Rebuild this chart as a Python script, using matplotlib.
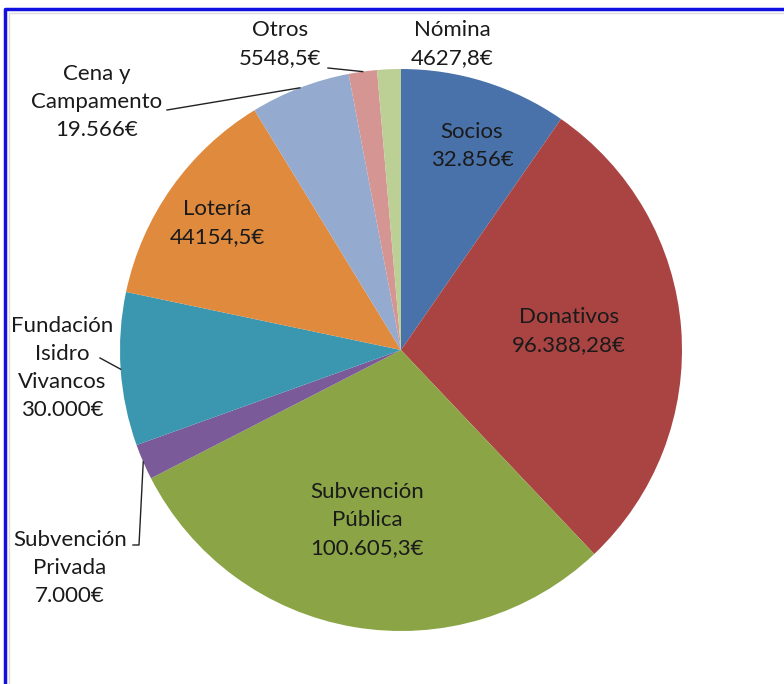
import numpy as np
import matplotlib.pyplot as plt

plt.rcParams['font.family'] = ['Lato', 'DejaVu Sans']

# datos del gráfico
categorias = ['Socios', 'Donativos', 'Subvención\nPública', 'Subvención\nPrivada',
              'Fundación\nIsidro\nVivancos', 'Lotería', 'Cena y\nCampamento', 'Otros', 'Nómina']
importes = [32856, 96388.28, 100605.3, 7000, 30000, 44154.5, 19566, 5548.5, 4627.8]
textos_importe = ['32.856€', '96.388,28€', '100.605,3€', '7.000€', '30.000€',
                  '44154,5€', '19.566€', '5548,5€', '4627,8€']
colores = ['#4a72aa', '#a94442', '#8ba446', '#7a5a98', '#3b97b0',
           '#e08a3e', '#95aacf', '#d49593', '#bccf94']

W, H = 784, 684
cx, cy, R = 401, H - 350, 281

# posicion de cada etiqueta (px desde arriba-izquierda) y puntos del conector
pos_etiquetas = [(472, 146), (569, 331), (367, 520), (70, 568), (62, 368),
                 (217, 223), (97, 102), (280, 44), (452, 44)]
conectores = {3: [(133, 545), (139, 545)], 4: [(100, 358)], 6: [(167, 110)], 7: [(328, 68)]}

fig = plt.figure(figsize=(W / 100, H / 100), dpi=100)
ax = fig.add_axes([0, 0, 1, 1])

wedges, _ = ax.pie(importes, colors=colores, startangle=90, counterclock=False,
                   center=(cx, cy), radius=R, wedgeprops=dict(linewidth=0))
ax.set_xlim(0, W)
ax.set_ylim(0, H)
ax.set_aspect('equal')
ax.axis('off')

for i, (cat, txt) in enumerate(zip(categorias, textos_importe)):
    x, y = pos_etiquetas[i]
    ax.text(x, H - y, cat + '\n' + txt, ha='center', va='center', fontsize=16,
            color='#1a1a1a', linespacing=1.5)
    if i in conectores:
        w = wedges[i]
        mid = np.deg2rad((w.theta1 + w.theta2) / 2)
        pts = [(px, H - py) for px, py in conectores[i]]
        pts.append((cx + R * np.cos(mid), cy + R * np.sin(mid)))
        xs, ys = zip(*pts)
        ax.plot(xs, ys, color='#222222', lw=1)

# marco azul
ax.plot([5, 5, W + 5], [-5, H - 9, H - 9], color='#1010e0', lw=2.5, clip_on=False)
ax.plot([9, 9, W + 5], [-5, H - 13, H - 13], color='#dddddd', lw=1, clip_on=False)

fig.savefig('out.png', dpi=100)
